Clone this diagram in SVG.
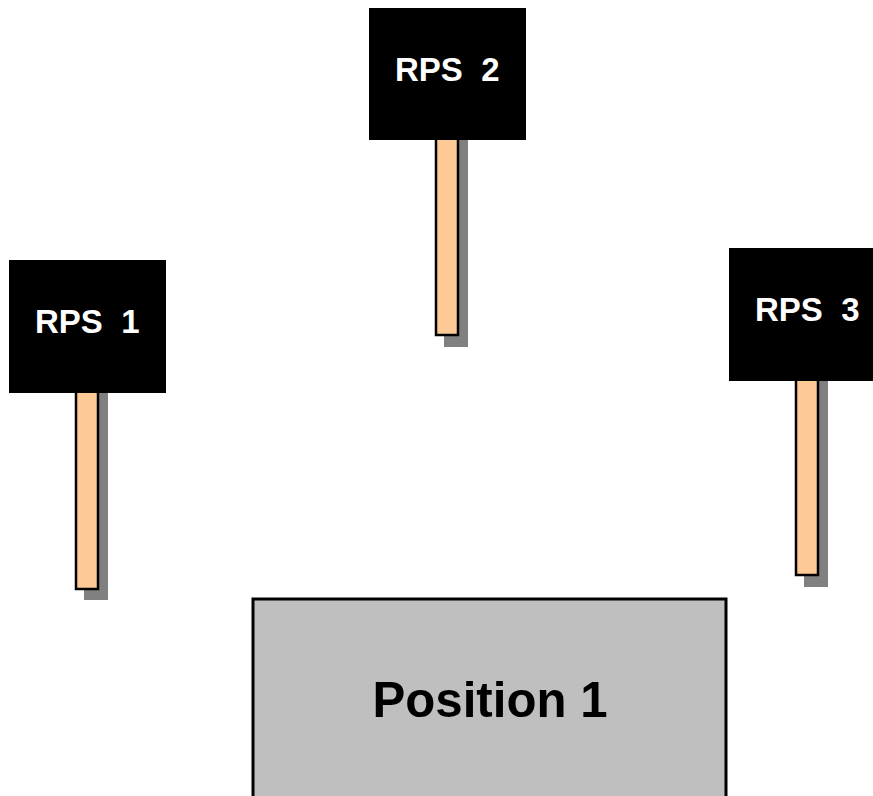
<svg xmlns="http://www.w3.org/2000/svg" width="873" height="796" viewBox="0 0 873 796">
<style>
.shadow{fill:#808080}
.stick{fill:#fdca96;stroke:#000;stroke-width:2.5}
.sign{fill:#000}
.lbl{font-family:"Liberation Sans",Arial,sans-serif;font-weight:bold;font-size:33px;fill:#fff;white-space:pre}
.pos{fill:#bfbfbf;stroke:#000;stroke-width:3}
.postxt{font-family:"Liberation Sans",Arial,sans-serif;font-weight:bold;font-size:50px;fill:#000}
</style>
<rect width="873" height="796" fill="#fff"/>
<g id="rps1">
<rect class="shadow" x="84" y="393" width="24" height="207"/>
<rect class="stick" x="76" y="385" width="22" height="204"/>
<rect class="sign" x="9" y="260" width="157" height="133"/>
<text class="lbl" x="35" y="333" xml:space="preserve">RPS  1</text>
</g>
<g id="rps2">
<rect class="shadow" x="444" y="140" width="24" height="207"/>
<rect class="stick" x="436" y="132" width="22" height="203"/>
<rect class="sign" x="369" y="8" width="157" height="132"/>
<text class="lbl" x="395" y="81" xml:space="preserve">RPS  2</text>
</g>
<g id="rps3">
<rect class="shadow" x="804" y="381" width="24" height="206"/>
<rect class="stick" x="796" y="373" width="22" height="202"/>
<rect class="sign" x="729" y="248" width="144" height="133"/>
<text class="lbl" x="755" y="321" xml:space="preserve">RPS  3</text>
</g>
<g id="position1">
<rect class="pos" x="253" y="599" width="473" height="210"/>
<text class="postxt" x="490" y="717" text-anchor="middle" textLength="235" lengthAdjust="spacingAndGlyphs">Position 1</text>
</g>
<g id="connectors"/>
</svg>
